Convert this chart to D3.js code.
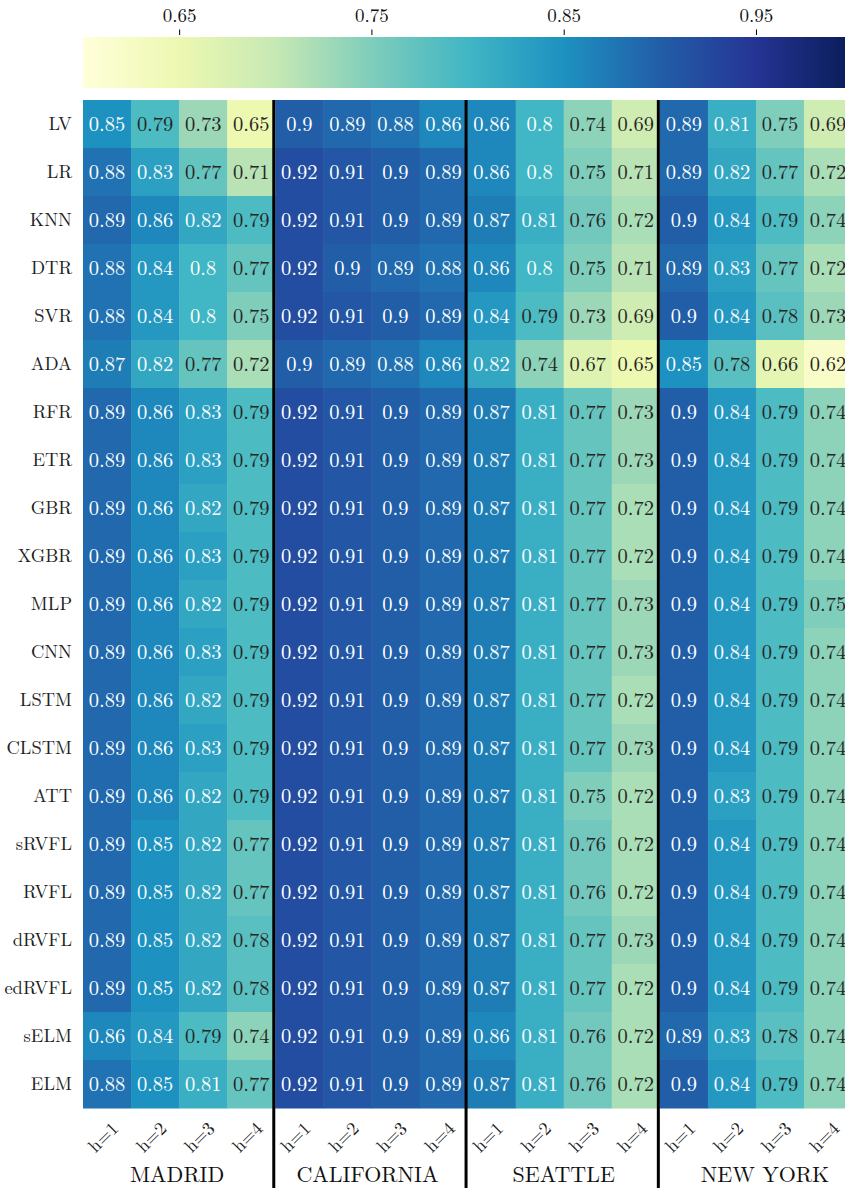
<!DOCTYPE html>
<html>
<head>
<meta charset="utf-8">
<script src="https://cdn.jsdelivr.net/npm/d3@7"></script>
<style>
  html, body { margin: 0; padding: 0; background: #fff; overflow: hidden; }
  svg { display: block; }
  text { font-family: "Latin Modern Roman", "CMU Serif", "Liberation Serif", serif; }
</style>
</head>
<body>
<svg id="chart" width="845" height="1188"></svg>
<script>
// ---- data ----
const models = ["LV", "LR", "KNN", "DTR", "SVR", "ADA", "RFR", "ETR", "GBR", "XGBR", "MLP",
  "CNN", "LSTM", "CLSTM", "ATT", "sRVFL", "RVFL", "dRVFL", "edRVFL", "sELM", "ELM"];
const cities = ["MADRID", "CALIFORNIA", "SEATTLE", "NEW YORK"];
const horizons = ["h=1", "h=2", "h=3", "h=4"];
const cbarTicks = [0.65, 0.75, 0.85, 0.95];
const colorDomain = [0.6, 1.0];

// one row per model, one column per horizon
const madrid = [
  [0.85, 0.79, 0.73, 0.65], [0.88, 0.83, 0.77, 0.71], [0.89, 0.86, 0.82, 0.79],
  [0.88, 0.84, 0.80, 0.77], [0.88, 0.84, 0.80, 0.75], [0.87, 0.82, 0.77, 0.72],
  [0.89, 0.86, 0.83, 0.79], [0.89, 0.86, 0.83, 0.79], [0.89, 0.86, 0.82, 0.79],
  [0.89, 0.86, 0.83, 0.79], [0.89, 0.86, 0.82, 0.79], [0.89, 0.86, 0.83, 0.79],
  [0.89, 0.86, 0.82, 0.79], [0.89, 0.86, 0.83, 0.79], [0.89, 0.86, 0.82, 0.79],
  [0.89, 0.85, 0.82, 0.77], [0.89, 0.85, 0.82, 0.77], [0.89, 0.85, 0.82, 0.78],
  [0.89, 0.85, 0.82, 0.78], [0.86, 0.84, 0.79, 0.74], [0.88, 0.85, 0.81, 0.77]
];
const california = [
  [0.90, 0.89, 0.88, 0.86], [0.92, 0.91, 0.90, 0.89], [0.92, 0.91, 0.90, 0.89],
  [0.92, 0.90, 0.89, 0.88], [0.92, 0.91, 0.90, 0.89], [0.90, 0.89, 0.88, 0.86],
  [0.92, 0.91, 0.90, 0.89], [0.92, 0.91, 0.90, 0.89], [0.92, 0.91, 0.90, 0.89],
  [0.92, 0.91, 0.90, 0.89], [0.92, 0.91, 0.90, 0.89], [0.92, 0.91, 0.90, 0.89],
  [0.92, 0.91, 0.90, 0.89], [0.92, 0.91, 0.90, 0.89], [0.92, 0.91, 0.90, 0.89],
  [0.92, 0.91, 0.90, 0.89], [0.92, 0.91, 0.90, 0.89], [0.92, 0.91, 0.90, 0.89],
  [0.92, 0.91, 0.90, 0.89], [0.92, 0.91, 0.90, 0.89], [0.92, 0.91, 0.90, 0.89]
];
const seattle = [
  [0.86, 0.80, 0.74, 0.69], [0.86, 0.80, 0.75, 0.71], [0.87, 0.81, 0.76, 0.72],
  [0.86, 0.80, 0.75, 0.71], [0.84, 0.79, 0.73, 0.69], [0.82, 0.74, 0.67, 0.65],
  [0.87, 0.81, 0.77, 0.73], [0.87, 0.81, 0.77, 0.73], [0.87, 0.81, 0.77, 0.72],
  [0.87, 0.81, 0.77, 0.72], [0.87, 0.81, 0.77, 0.73], [0.87, 0.81, 0.77, 0.73],
  [0.87, 0.81, 0.77, 0.72], [0.87, 0.81, 0.77, 0.73], [0.87, 0.81, 0.75, 0.72],
  [0.87, 0.81, 0.76, 0.72], [0.87, 0.81, 0.76, 0.72], [0.87, 0.81, 0.77, 0.73],
  [0.87, 0.81, 0.77, 0.72], [0.86, 0.81, 0.76, 0.72], [0.87, 0.81, 0.76, 0.72]
];
const newYork = [
  [0.89, 0.81, 0.75, 0.69], [0.89, 0.82, 0.77, 0.72], [0.90, 0.84, 0.79, 0.74],
  [0.89, 0.83, 0.77, 0.72], [0.90, 0.84, 0.78, 0.73], [0.85, 0.78, 0.66, 0.62],
  [0.90, 0.84, 0.79, 0.74], [0.90, 0.84, 0.79, 0.74], [0.90, 0.84, 0.79, 0.74],
  [0.90, 0.84, 0.79, 0.74], [0.90, 0.84, 0.79, 0.75], [0.90, 0.84, 0.79, 0.74],
  [0.90, 0.84, 0.79, 0.74], [0.90, 0.84, 0.79, 0.74], [0.90, 0.83, 0.79, 0.74],
  [0.90, 0.84, 0.79, 0.74], [0.90, 0.84, 0.79, 0.74], [0.90, 0.84, 0.79, 0.74],
  [0.90, 0.84, 0.79, 0.74], [0.89, 0.83, 0.78, 0.74], [0.90, 0.84, 0.79, 0.74]
];
const cityValues = [madrid, california, seattle, newYork];

// ---- layout ----
const leftX = 83, topY = 100, cellW = 48.07, cellH = 48;
const columns = [];
cities.forEach((c, ci) => horizons.forEach((h, hi) => columns.push(ci + "|" + hi)));

const x = d3.scaleBand().domain(columns).range([leftX, leftX + columns.length * cellW]).padding(0);
const y = d3.scaleBand().domain(models).range([topY, topY + models.length * cellH]).padding(0);

// YlGnBu, piecewise linear through the nine ColorBrewer anchors
const ylgnbu = ["#ffffd9", "#edf8b1", "#c7e9b4", "#7fcdbb", "#41b6c4", "#1d91c0", "#225ea8", "#253494", "#081d58"];
const color = d3.scaleLinear()
  .domain(ylgnbu.map((_, i) => colorDomain[0] + (colorDomain[1] - colorDomain[0]) * i / (ylgnbu.length - 1)))
  .range(ylgnbu)
  .interpolate(d3.interpolateRgb)
  .clamp(true);

// annotation colour chosen from the cell's relative luminance
function textColor(v) {
  const c = d3.rgb(color(v));
  const lin = ch => { ch /= 255; return ch <= 0.03928 ? ch / 12.92 : Math.pow((ch + 0.055) / 1.055, 2.4); };
  const L = 0.2126 * lin(c.r) + 0.7152 * lin(c.g) + 0.0722 * lin(c.b);
  return L > 0.408 ? "#262626" : "#ffffff";
}
const fmt = d3.format(".2");

const svg = d3.select("#chart");

// ---- colour bar ----
const cbX = d3.scaleLinear().domain(colorDomain).range([leftX, leftX + columns.length * cellW]);
const defs = svg.append("defs");
const grad = defs.append("linearGradient").attr("id", "cbar-grad")
  .attr("x1", "0%").attr("x2", "100%").attr("y1", "0%").attr("y2", "0%");
ylgnbu.forEach((col, i) => {
  grad.append("stop").attr("offset", (100 * i / (ylgnbu.length - 1)) + "%").attr("stop-color", col);
});
svg.append("rect")
  .attr("x", cbX(colorDomain[0])).attr("y", 37)
  .attr("width", cbX(colorDomain[1]) - cbX(colorDomain[0])).attr("height", 51)
  .attr("fill", "url(#cbar-grad)");

const cbAxis = svg.append("g")
  .attr("transform", "translate(0,35)")
  .call(d3.axisTop(cbX).tickValues(cbarTicks).tickFormat(d3.format(".2f")).tickSize(5.5).tickPadding(8));
cbAxis.select(".domain").remove();
cbAxis.selectAll(".tick line").attr("stroke", "#000").attr("stroke-width", 1);
cbAxis.selectAll(".tick text").attr("font-size", 19).attr("fill", "#111")
  .style("font-family", "'Latin Modern Roman','CMU Serif','Liberation Serif',serif");

// ---- cells ----
const cells = [];
cityValues.forEach((rows, ci) => {
  rows.forEach((vals, ri) => {
    vals.forEach((v, hi) => cells.push({ col: ci + "|" + hi, model: models[ri], v }));
  });
});

const g = svg.append("g");
g.selectAll("rect.cell").data(cells).join("rect")
  .attr("class", "cell")
  .attr("x", d => x(d.col))
  .attr("y", d => y(d.model))
  .attr("width", x.bandwidth() + 0.5)
  .attr("height", y.bandwidth() + 0.5)
  .attr("fill", d => color(d.v));

g.selectAll("text.val").data(cells).join("text")
  .attr("class", "val")
  .attr("x", d => x(d.col) + x.bandwidth() / 2)
  .attr("y", d => y(d.model) + y.bandwidth() / 2)
  .attr("dy", "0.35em")
  .attr("text-anchor", "middle")
  .attr("font-size", 20.5)
  .attr("fill", d => textColor(d.v))
  .text(d => fmt(d.v));

// ---- row labels ----
svg.append("g").selectAll("text").data(models).join("text")
  .attr("x", 72)
  .attr("y", d => y(d) + y.bandwidth() / 2)
  .attr("dy", "0.35em")
  .attr("text-anchor", "end")
  .attr("font-size", 18.5)
  .attr("fill", "#222")
  .text(d => d);

// ---- horizon labels, rotated ----
const bottomY = topY + models.length * cellH;
svg.append("g").selectAll("text").data(columns).join("text")
  .attr("transform", d => `translate(${x(d) + x.bandwidth() / 2 - 4},${bottomY + 29}) rotate(-45)`)
  .attr("text-anchor", "middle")
  .attr("dy", "0.35em")
  .attr("font-size", 18.5)
  .attr("fill", "#222")
  .text(d => horizons[+d.split("|")[1]]);

// ---- city labels ----
const cityShift = [-2, -4, 0, 9];
svg.append("g").selectAll("text").data(cities).join("text")
  .attr("x", (d, i) => x(i + "|0") + 2 * cellW + cityShift[i])
  .attr("y", 1181.5)
  .attr("text-anchor", "middle")
  .attr("font-size", 22)
  .attr("fill", "#111")
  .text(d => d);

// ---- separators between cities ----
svg.append("g").selectAll("line").data(cities.slice(1)).join("line")
  .attr("x1", (d, i) => x((i + 1) + "|0") - 1.5)
  .attr("x2", (d, i) => x((i + 1) + "|0") - 1.5)
  .attr("y1", topY)
  .attr("y2", 1188)
  .attr("stroke", "#000")
  .attr("stroke-width", 3);
</script>
</body>
</html>
